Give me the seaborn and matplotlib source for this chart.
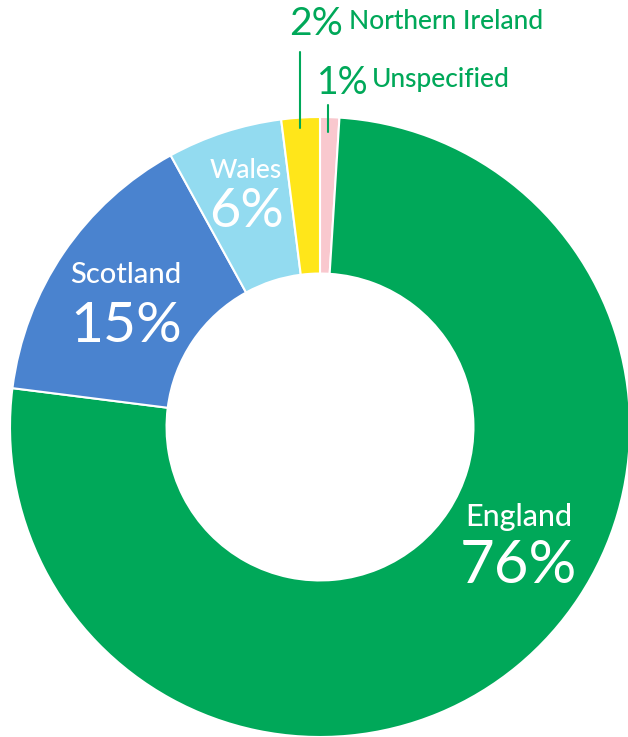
import matplotlib
matplotlib.use("Agg")
import matplotlib.pyplot as plt
import seaborn as sns

categories = ["Unspecified", "England", "Scotland", "Wales", "Northern Ireland"]
values = [1, 76, 15, 6, 2]
colors = ["#F9C8CE", "#00A859", "#4A83CF", "#93DBF0", "#FFE61A"]
green = "#00A859"

sns.set_theme(style="white")
plt.rcParams["font.family"] = ["Lato", "DejaVu Sans"]

W, H = 628, 737
fig = plt.figure(figsize=(W / 100, H / 100), dpi=100)
ax = fig.add_axes([0, 0, 1, 1])

cx, cy, R = 320, H - 427, 310
ax.pie(values, colors=colors, startangle=90, counterclock=False,
       center=(cx, cy), radius=R, frame=True,
       wedgeprops=dict(width=R * 0.505, edgecolor="white", linewidth=1.5))
ax.set_xlim(0, W)
ax.set_ylim(0, H)
ax.set_aspect("equal")
ax.axis("off")

def Y(y):
    return H - y

wt = "medium"
# in-slice labels
ax.text(519, Y(517), "England", color="white", fontsize=22, fontweight=wt, ha="center", va="center")
ax.text(518, Y(566), "76%", color="white", fontsize=43, ha="center", va="center")
ax.text(126, Y(275), "Scotland", color="white", fontsize=21, fontweight=wt, ha="center", va="center")
ax.text(126, Y(326), "15%", color="white", fontsize=41, ha="center", va="center")
ax.text(246, Y(170), "Wales", color="white", fontsize=19, fontweight=wt, ha="center", va="center")
ax.text(246, Y(211), "6%", color="white", fontsize=39, ha="center", va="center")

# outside labels
ax.text(289, Y(24), "2%", color=green, fontsize=28, ha="left", va="center")
ax.text(349, Y(21), "Northern Ireland", color=green, fontsize=19, fontweight=wt, ha="left", va="center")
ax.plot([300, 300], [Y(52), Y(128)], color=green, lw=1.5)
ax.text(317, Y(83), "1%", color=green, fontsize=27, ha="left", va="center")
ax.text(372, Y(79), "Unspecified", color=green, fontsize=19, fontweight=wt, ha="left", va="center")
ax.plot([328, 328], [Y(105), Y(132)], color=green, lw=1.5)

fig.savefig("out.png", dpi=100)
